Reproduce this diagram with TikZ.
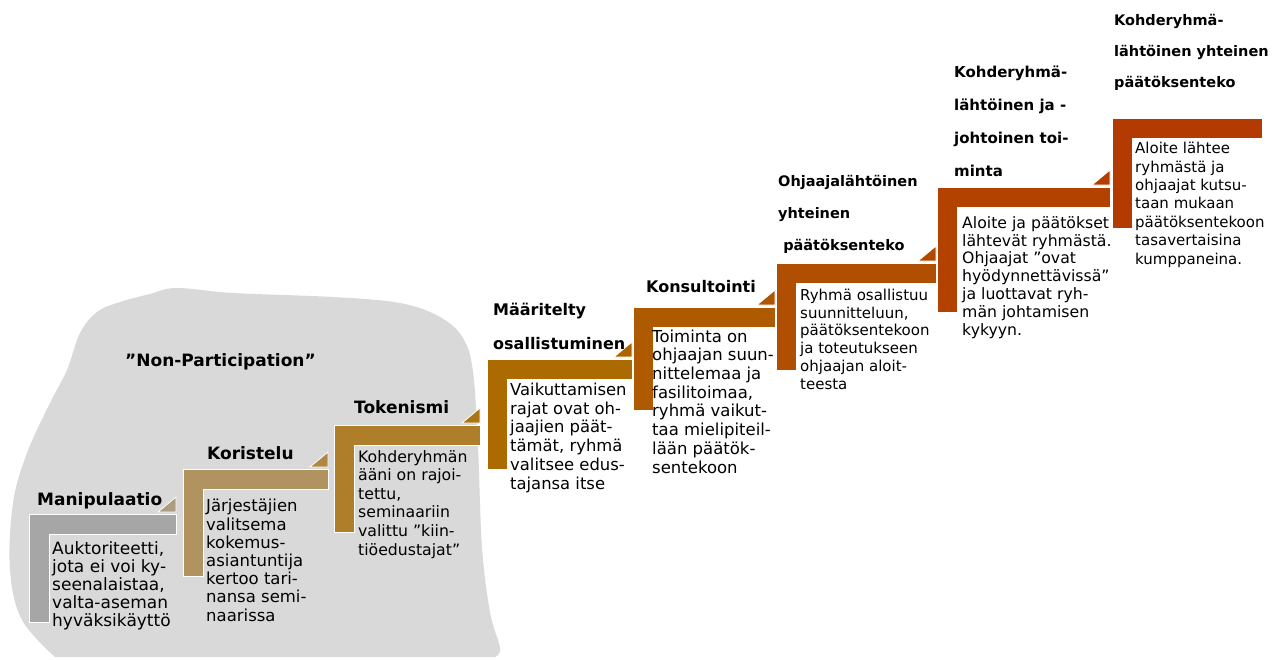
\documentclass[tikz,border=0pt]{standalone}
\usepackage{fontspec}
\setmainfont{DejaVu Sans}
\usepackage{tikz}
\definecolor{blobgray}{HTML}{D9D9D9}
\definecolor{stepgray}{HTML}{A6A6A6}
\definecolor{steptan}{HTML}{B0935E}
\definecolor{stepgold}{HTML}{AF7E2A}
\definecolor{stepochre}{HTML}{AC6B00}
\definecolor{steporange}{HTML}{AE5A00}
\definecolor{steprust}{HTML}{B04E02}
\definecolor{stepbrick}{HTML}{B34200}
\definecolor{stepred}{HTML}{B33A00}
\tikzset{
x=1pt, y=-1pt, % pixel coordinates, y runs down
stepshape/.style={draw=white, line width=0.8pt}, % the L shaped stairs
steptitle/.style={anchor=base west, inner sep=0pt, align=left, font=\bfseries\fontsize{17}{32}\selectfont},
stepbody/.style={anchor=base west, inner sep=0pt, align=left, font=\fontsize{16.5}{18.5}\selectfont},
}
\begin{document}
\begin{tikzpicture}
\useasboundingbox (0,0) rectangle (1281,659);

% grey area behind the lowest steps
\fill[blobgray] plot[smooth, tension=0.6] coordinates {(55,657) (22,620) (10,570) (13,503) (27,453) (50,403) (67,370) (80,333) (97,312) (120,302) (150,294) (177,288) (233,293) (333,297) (400,303) (440,317) (463,338) (473,372) (478,447) (482,547) (490,612) (500,648) (495,657)} -- cycle;
\node[steptitle] (nonpart) at (125,366) {”Non-Participation”};

% the stairs: left, top, right, bottom, colour
\foreach \x/\y/\r/\b/\c in {29/514/176/622/stepgray, 183/469/328/576/steptan, 334/425/480/532/stepgold, 487/359/632/469/stepochre, 633/307/775/410/steporange, 776/263/936/370/steprust, 937/187/1110/312/stepbrick, 1112/118/1262/228/stepred}
  \draw[stepshape, fill=\c] (\x,\y) -- (\r,\y) -- (\r,\y+20) -- (\x+20,\y+20) -- (\x+20,\b) -- (\x,\b) -- cycle;
% small corner pieces
\foreach \r/\y/\c/\n in {176/514/stepgray/steptan, 328/469/steptan/stepgold, 480/425/stepgold/stepochre, 632/359/stepochre/steporange, 775/307/steporange/steprust, 936/263/steprust/stepbrick, 1110/187/stepbrick/stepred}
  \draw[stepshape, fill=\c!50!\n] (\r,\y-2) -- (\r,\y-17) -- (\r-18,\y-2) -- cycle;

% texts, placed at the baseline of their last line
\node[steptitle] (manip) at (37,505) {Manipulaatio};
\node[stepbody, font=\fontsize{17}{18}\selectfont] (manipdesc) at (52,626) {Auktoriteetti,\\jota ei voi ky-\\seenalaistaa,\\valta-aseman\\hyväksikäyttö};

\node[steptitle] (koristelu) at (207,459) {Koristelu};
\node[stepbody, font=\fontsize{16.5}{18.2}\selectfont] (koristeludesc) at (206,621) {Järjestäjien\\valitsema\\kokemus-\\asiantuntija\\kertoo tari-\\nansa semi-\\naarissa};

\node[steptitle] (tokenismi) at (354,413) {Tokenismi};
\node[stepbody, font=\fontsize{15.7}{18.6}\selectfont] (tokenismidesc) at (358,555) {Kohderyhmän\\ääni on rajoi-\\tettu,\\seminaariin\\valittu ”kiin-\\tiöedustajat”};

\node[steptitle, font=\bfseries\fontsize{16}{34}\selectfont] (maaritelty) at (493,349) {Määritelty\\osallistuminen};
\node[stepbody, font=\fontsize{16.4}{18.7}\selectfont] (maaritteltydesc) at (510,489) {Vaikuttamisen\\rajat ovat oh-\\jaajien päät-\\tämät, ryhmä\\valitsee edus-\\tajansa itse};

\node[steptitle, font=\bfseries\fontsize{16}{32}\selectfont] (konsultointi) at (646,292) {Konsultointi};
\node[stepbody, font=\fontsize{16.5}{18.7}\selectfont] (konsultointidesc) at (652,473) {Toiminta on\\ohjaajan suun-\\nittelemaa ja\\fasilitoimaa,\\ryhmä vaikut-\\taa mielipiteil-\\lään päätök-\\sentekoon};

\node[steptitle, font=\bfseries\fontsize{14.5}{32}\selectfont] (ohjaaja) at (778,250) {Ohjaajalähtöinen\\yhteinen\\\hspace{0.35em}päätöksenteko};
\node[stepbody, font=\fontsize{15}{17.7}\selectfont] (ohjaajadesc) at (800,389) {Ryhmä osallistuu\\suunnitteluun,\\päätöksentekoon\\ja toteutukseen\\ohjaajan aloit-\\teesta};

\node[steptitle, font=\bfseries\fontsize{15}{33}\selectfont] (johtoinen) at (954,176) {Kohderyhmä-\\lähtöinen ja -\\johtoinen toi-\\minta};
\node[stepbody, font=\fontsize{15.7}{17.8}\selectfont] (johtoinendesc) at (962,335) {Aloite ja päätökset\\lähtevät ryhmästä.\\Ohjaajat ”ovat\\hyödynnettävissä”\\ja luottavat ryh-\\män johtamisen\\kykyyn.};

\node[steptitle, font=\bfseries\fontsize{14.5}{31}\selectfont] (yhteinen) at (1114,87) {Kohderyhmä-\\lähtöinen yhteinen\\päätöksenteko};
\node[stepbody, font=\fontsize{15}{18.4}\selectfont] (yhteinendesc) at (1135,264) {Aloite lähtee\\ryhmästä ja\\ohjaajat kutsu-\\taan mukaan\\päätöksentekoon\\tasavertaisina\\kumppaneina.};
\end{tikzpicture}
\end{document}
